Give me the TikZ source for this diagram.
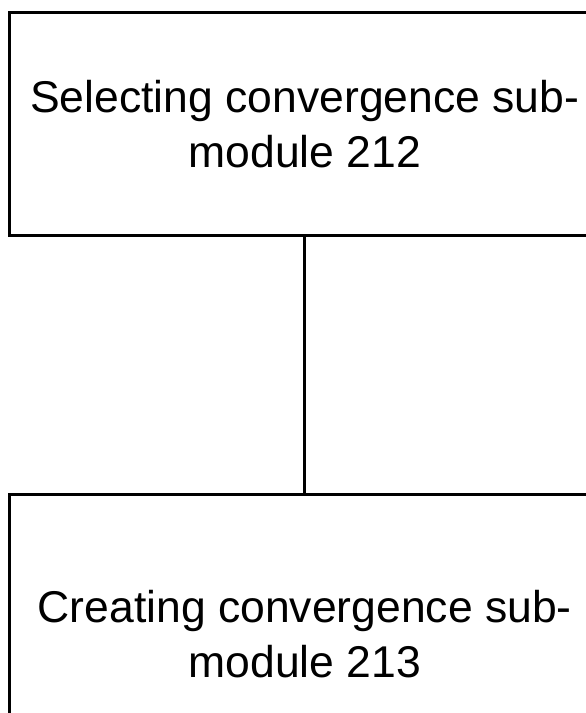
\documentclass[tikz,border=0pt]{standalone}
\usepackage{fontspec}
\setmainfont{Liberation Sans}
\begin{document}
\begin{tikzpicture}[x=1pt,y=-1pt,
  boxstyle/.style={draw=black,line width=3pt,minimum width=590.5pt,align=center,inner sep=0pt,
    font=\fontsize{44.5}{55}\selectfont},
  conn/.style={draw=black,line width=3pt}]
\useasboundingbox (0,0) rectangle (586,713);
\clip (0,0) rectangle (586,713);
\node[boxstyle,minimum height=222.5pt] (a) at (304.75,124) {Selecting convergence sub-\\module 212};
\node[boxstyle,minimum height=280pt] (b) at (304.75,634.5) {Creating convergence sub-\\module 213};
\draw[conn] (a.south) -- (b.north);
\end{tikzpicture}
\end{document}
